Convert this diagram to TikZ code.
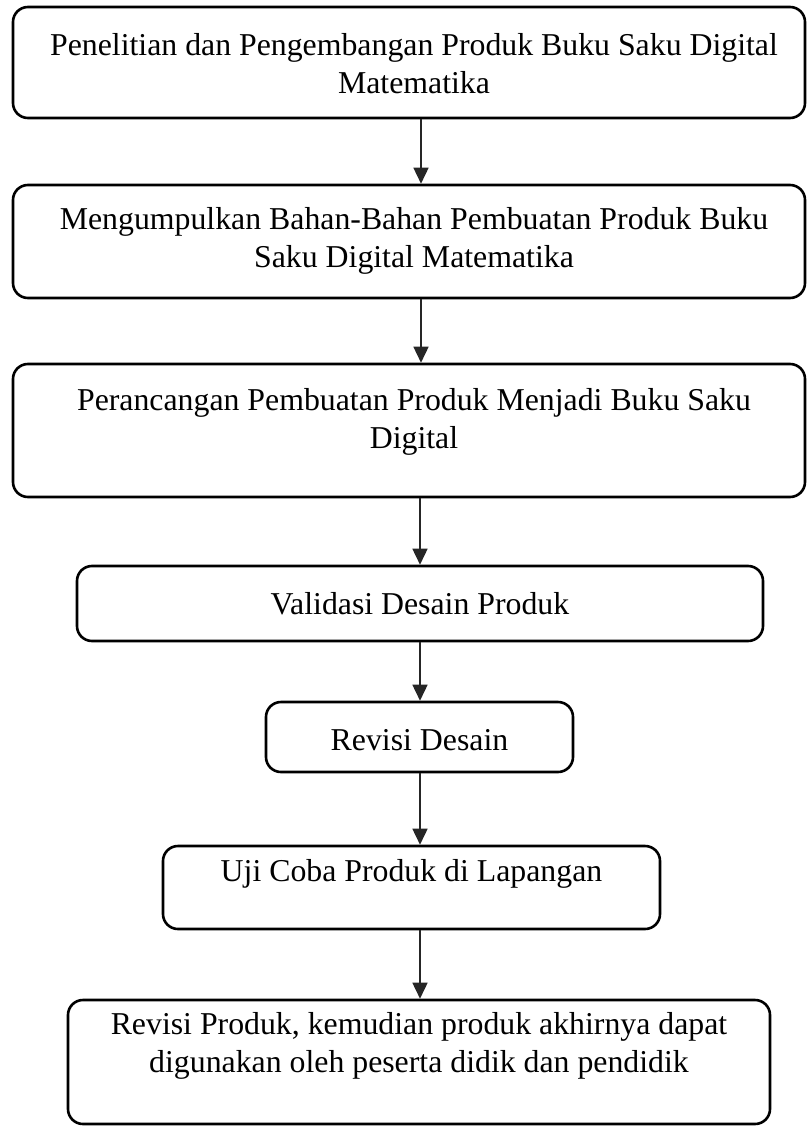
\documentclass[tikz,border=0pt]{standalone}
\usepackage{fontspec}
\setmainfont{Liberation Serif}
\usetikzlibrary{arrows.meta}
\begin{document}
\begin{tikzpicture}[x=1pt,y=-1pt,
  stepbox/.style={draw=black,line width=2.6pt,rounded corners=15pt,inner sep=0pt,fill=white},
  steptext/.style={align=center,inner sep=0pt,font=\fontsize{31.8}{38}\selectfont},
  flow/.style={line width=1.6pt,draw=black!85,-{Triangle[width=15pt,length=16pt]}}]
\useasboundingbox (0,0) rectangle (806,1126);
\fill[white] (0,0) rectangle (806,1126);
% boxes
\node[stepbox,minimum width=792pt,minimum height=111pt] (b1) at (409,62.5) {};
\node[steptext] (t1) at (414,64) {Penelitian dan Pengembangan Produk Buku Saku Digital\\Matematika};
\node[stepbox,minimum width=792pt,minimum height=113pt] (b2) at (409,241.5) {};
\node[steptext] (t2) at (414,241) {Mengumpulkan Bahan-Bahan Pembuatan Produk Buku\\Saku Digital Matematika};
\node[stepbox,minimum width=792pt,minimum height=133pt] (b3) at (409,430.5) {};
\node[steptext] (t3) at (414,422) {Perancangan Pembuatan Produk Menjadi Buku Saku\\Digital};
\node[stepbox,minimum width=686pt,minimum height=75pt] (b4) at (420,603.5) {};
\node[steptext] (t4) at (420,604) {Validasi Desain Produk};
\node[stepbox,minimum width=307pt,minimum height=70pt] (b5) at (419.5,737) {};
\node[steptext] (t5) at (419.5,740) {Revisi Desain};
\node[stepbox,minimum width=497pt,minimum height=83pt] (b6) at (411.5,887.5) {};
\node[steptext] (t6) at (411.5,874) {Uji Coba Produk di Lapangan};
\node[stepbox,minimum width=702pt,minimum height=124pt] (b7) at (419,1062) {};
\node[steptext] (t7) at (419,1046) {Revisi Produk, kemudian produk akhirnya dapat\\digunakan oleh peserta didik dan pendidik};
% connectors
\draw[flow] (b1.south -| 421,0) -- (b2.north -| 421,0);
\draw[flow] (b2.south -| 421,0) -- (b3.north -| 421,0);
\draw[flow] (b3.south -| 420,0) -- (b4.north -| 420,0);
\draw[flow] (b4.south -| 420,0) -- (b5.north -| 420,0);
\draw[flow] (b5.south -| 420,0) -- (b6.north -| 420,0);
\draw[flow] (b6.south -| 420,0) -- (b7.north -| 420,0);
\end{tikzpicture}
\end{document}
